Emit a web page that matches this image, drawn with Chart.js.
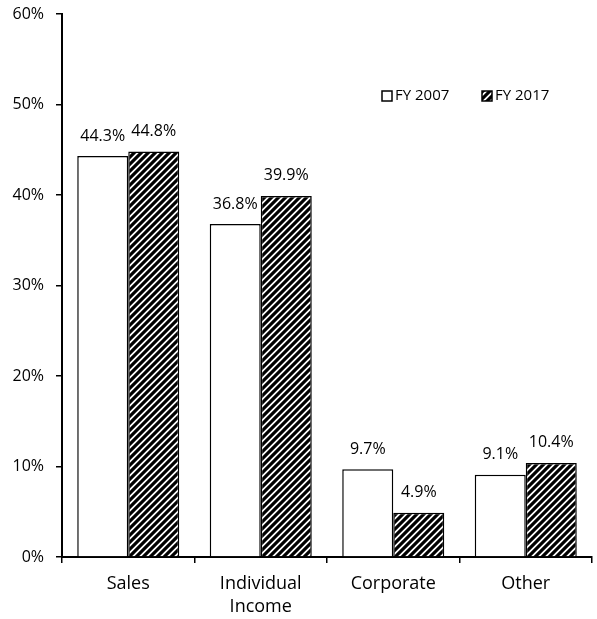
<!DOCTYPE html>
<html lang="en">
<head>
    <meta charset="UTF-8">
    <title>Revenue Shares</title>
    <script src="https://cdn.jsdelivr.net/npm/chart.js"></script>
    <style>
        body { margin: 0; background: #fff; }
    </style>
</head>
<body>
    <div>
        <canvas id="shareChart" width="597" height="619"></canvas>
    </div>

    <script>
        // Chart data
        const categories = ['Sales', ['Individual', 'Income'], 'Corporate', 'Other'];
        const fy2007 = [44.3, 36.8, 9.7, 9.1];
        const fy2017 = [44.8, 39.9, 4.9, 10.4];
        const seriesNames = ['FY 2007', 'FY 2017'];
        const yTicks = [0, 10, 20, 30, 40, 50, 60];

        const fontFamily = "'Open Sans', 'Liberation Sans', sans-serif";

        // Diagonal hatch fill for the second series
        function makeHatch() {
            const size = 7;
            const c = document.createElement('canvas');
            c.width = size;
            c.height = size;
            const ctx = c.getContext('2d');
            ctx.fillStyle = '#fff';
            ctx.fillRect(0, 0, size, size);
            ctx.strokeStyle = '#000';
            ctx.lineWidth = 3.2;
            ctx.beginPath();
            ctx.moveTo(-1, size + 1);
            ctx.lineTo(size + 1, -1);
            ctx.moveTo(-size / 2 - 1, size / 2 + 1);
            ctx.lineTo(size / 2 + 1, -size / 2 - 1);
            ctx.moveTo(size / 2 - 1, size * 1.5 + 1);
            ctx.lineTo(size * 1.5 + 1, size / 2 - 1);
            ctx.stroke();
            return c.getContext('2d').createPattern(c, 'repeat');
        }
        const hatch = makeHatch();

        // Value labels above each bar
        const valueLabels = {
            id: 'valueLabels',
            afterDatasetsDraw(chart) {
                const ctx = chart.ctx;
                ctx.save();
                ctx.font = '16px ' + fontFamily;
                ctx.fillStyle = '#000';
                ctx.textAlign = 'center';
                ctx.textBaseline = 'middle';
                chart.data.datasets.forEach((ds, i) => {
                    chart.getDatasetMeta(i).data.forEach((bar, j) => {
                        ctx.fillText(ds.data[j].toFixed(1) + '%', bar.x, bar.y - 20);
                    });
                });
                ctx.restore();
            }
        };

        // Legend drawn inside the plot, upper right
        const insideLegend = {
            id: 'insideLegend',
            afterDraw(chart) {
                const ctx = chart.ctx;
                const fills = ['#fff', hatch];
                const xs = [382, 482];
                const y = 96;
                ctx.save();
                ctx.font = '15px ' + fontFamily;
                ctx.textBaseline = 'middle';
                ctx.textAlign = 'left';
                seriesNames.forEach((name, i) => {
                    ctx.fillStyle = fills[i];
                    ctx.fillRect(xs[i], y - 5, 10, 10);
                    ctx.strokeStyle = '#000';
                    ctx.lineWidth = 1.5;
                    ctx.strokeRect(xs[i], y - 5, 10, 10);
                    ctx.fillStyle = '#000';
                    ctx.fillText(name, xs[i] + 13, y);
                });
                ctx.restore();
            }
        };

        new Chart(document.getElementById('shareChart'), {
            type: 'bar',
            data: {
                labels: categories,
                datasets: [{
                    label: seriesNames[0],
                    data: fy2007,
                    backgroundColor: '#fff',
                    borderColor: '#000',
                    borderWidth: 1.5
                }, {
                    label: seriesNames[1],
                    data: fy2017,
                    backgroundColor: hatch,
                    borderColor: '#000',
                    borderWidth: 1.5
                }]
            },
            options: {
                responsive: false,
                animation: false,
                layout: { padding: { top: 14, right: 5, left: 0, bottom: 0 } },
                datasets: {
                    bar: { categoryPercentage: 0.77, barPercentage: 1 }
                },
                plugins: {
                    legend: { display: false },
                    tooltip: { enabled: false }
                },
                scales: {
                    x: {
                        afterFit(scale) { scale.height = 62; },
                        grid: {
                            offset: true,
                            drawOnChartArea: false,
                            drawTicks: true,
                            tickLength: 6,
                            color: '#000',
                            lineWidth: 1.5
                        },
                        border: { color: '#000', width: 2 },
                        ticks: {
                            color: '#000',
                            font: { family: fontFamily, size: 18, lineHeight: 1.25 },
                            padding: 10
                        }
                    },
                    y: {
                        min: 0,
                        max: 60,
                        afterFit(scale) {
                            scale.width = 62;
                            scale.paddingTop = 0;
                            scale.paddingBottom = 0;
                        },
                        afterBuildTicks(scale) {
                            scale.ticks = yTicks.map(v => ({ value: v }));
                        },
                        grid: {
                            drawOnChartArea: false,
                            drawTicks: true,
                            tickLength: 6,
                            color: '#000',
                            lineWidth: 1.5
                        },
                        border: { color: '#000', width: 2 },
                        ticks: {
                            color: '#000',
                            font: { family: fontFamily, size: 16 },
                            padding: 12,
                            callback: v => v + '%'
                        }
                    }
                }
            },
            plugins: [valueLabels, insideLegend]
        });
    </script>
</body>
</html>
